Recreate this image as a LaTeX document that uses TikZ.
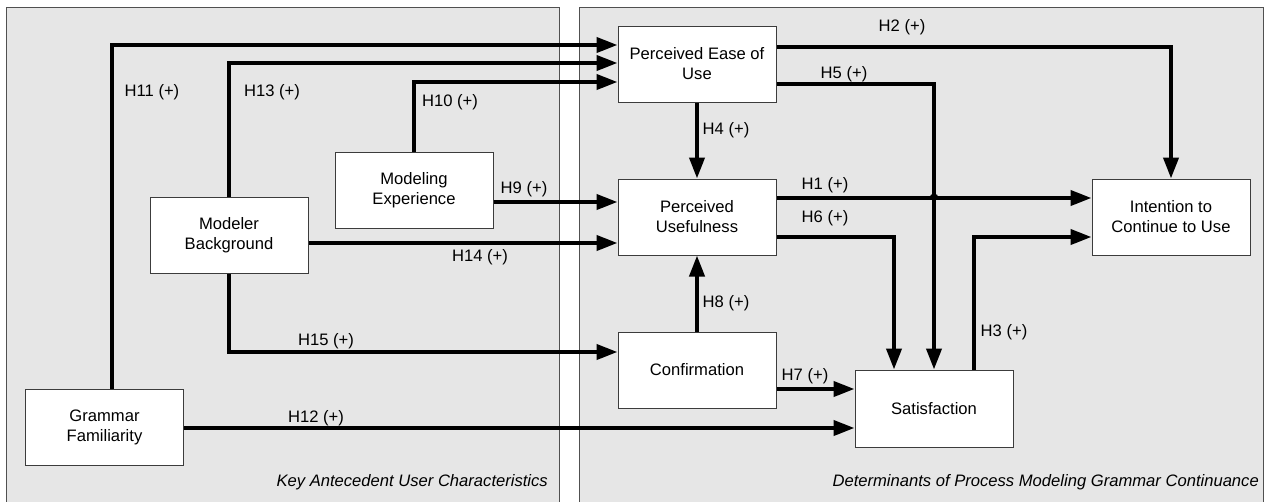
\documentclass[tikz,border=0pt]{standalone}
\usepackage{fontspec}
\setmainfont{Liberation Sans}
\usetikzlibrary{arrows.meta}
\definecolor{panelfill}{HTML}{E6E6E6}
\definecolor{panelline}{HTML}{505050}
\definecolor{boxline}{HTML}{3C3C3C}
\begin{document}
\begin{tikzpicture}[x=1pt,y=-1pt,
  box/.style={draw=boxline, line width=1pt, fill=white, minimum width=158pt, minimum height=76pt, align=center, inner sep=2pt, font=\fontsize{16.6}{20}\selectfont},
  arr/.style={line width=4pt, -{Triangle[length=21pt,width=15pt]}},
  lab/.style={font=\fontsize{16.6}{20}\selectfont, inner sep=0pt},
  captxt/.style={font=\fontsize{16.6}{20}\selectfont\itshape, inner sep=0pt, anchor=east},
  panel/.style={draw=panelline, line width=1pt, fill=panelfill}]
\useasboundingbox (0,0) rectangle (1268,501);
\fill[white] (0,0) rectangle (1268,501);
% panels
\path[panel] (6,7) rectangle (559,502);
\path[panel] (579,7) rectangle (1263,502);
\node[captxt] (capL) at (548,482) {Key Antecedent User Characteristics};
\node[captxt] (capR) at (1259,482) {Determinants of Process Modeling Grammar Continuance};
% nodes
\node[box] (PEU) at (697,64) {Perceived Ease of\\Use};
\node[box] (PU) at (697,217) {Perceived\\Usefulness};
\node[box] (CONF) at (697,370) {Confirmation};
\node[box, minimum height=77pt] (SAT) at (934,408.5) {Satisfaction};
\node[box] (INT) at (1171,217) {Intention to\\Continue to Use};
\node[box] (ME) at (414,190) {Modeling\\Experience};
\node[box] (MB) at (229,235) {Modeler\\Background};
\node[box] (GF) at (104.5,427) {Grammar\\Familiarity};
% connectors
\draw[arr] ([xshift=7.5pt]GF.north) |- ([yshift=19pt]PEU.west);
\draw[arr] (MB.north) |- ([yshift=1pt]PEU.west);
\draw[arr] (ME.north) |- ([yshift=-18pt]PEU.west);
\draw[arr] ([yshift=-12pt]ME.east) -- ([yshift=-12pt]ME.east -| PU.west);
\draw[arr] ([yshift=-8pt]MB.east) -- ([yshift=-8pt]MB.east -| PU.west);
\draw[arr] (MB.south) |- ([yshift=18pt]CONF.west);
\draw[arr] ([yshift=-1pt]GF.east) -- ([yshift=-1pt]GF.east -| SAT.west);
\draw[arr] (PEU.south) -- (PU.north);
\draw[arr] (CONF.north) -- (PU.south);
\draw[arr] ([yshift=-19pt]CONF.east) -- ([yshift=-19pt]CONF.east -| SAT.west);
\draw[arr] ([yshift=17pt]PEU.east) -| (INT.north);
\draw[arr] ([yshift=-20pt]PEU.east) -| (SAT.north);
\coordinate (h1s) at ([yshift=19pt]PU.east);
\draw[arr] (h1s) -- (h1s -| INT.west);
\draw[arr] ([yshift=-20pt]PU.east) -| ([xshift=-40pt]SAT.north);
\draw[arr] ([xshift=40pt]SAT.north) |- ([yshift=-20pt]INT.west);
\coordinate (X) at (SAT.north |- h1s);
\fill ([xshift=-4.5pt]X) arc[start angle=180, end angle=0, radius=4.5pt] -- cycle;
% labels
\node[lab] (l11) at (152,92) {H11 (+)};
\node[lab] (l13) at (272,92) {H13 (+)};
\node[lab] (l10) at (450,102) {H10 (+)};
\node[lab] (l9) at (524,189) {H9 (+)};
\node[lab] (l14) at (480,257) {H14 (+)};
\node[lab] (l15) at (326,341) {H15 (+)};
\node[lab] (l12) at (316,418) {H12 (+)};
\node[lab] (l2) at (902,27) {H2 (+)};
\node[lab] (l5) at (844,74) {H5 (+)};
\node[lab] (l4) at (726,130) {H4 (+)};
\node[lab] (l1) at (825,185) {H1 (+)};
\node[lab] (l6) at (825,218) {H6 (+)};
\node[lab] (l8) at (726,303) {H8 (+)};
\node[lab] (l3) at (1004,332) {H3 (+)};
\node[lab] (l7) at (805,376) {H7 (+)};
\end{tikzpicture}
\end{document}
